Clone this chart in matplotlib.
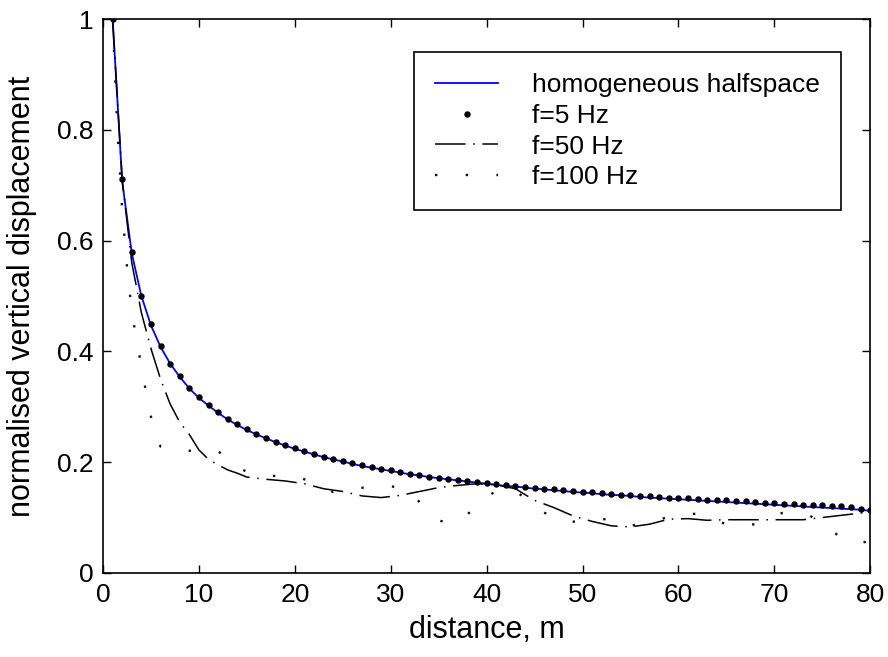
import numpy as np
import matplotlib
matplotlib.use("Agg")
import matplotlib.pyplot as plt

plt.rcParams['font.family'] = ['Liberation Sans', 'DejaVu Sans']

# distance (m) for halfspace and f=5 Hz
dist = np.arange(1, 81)

halfspace = [1.000, 0.707, 0.577, 0.500, 0.447, 0.408, 0.378, 0.354, 0.333, 0.316,
             0.302, 0.289, 0.277, 0.267, 0.258, 0.250, 0.243, 0.236, 0.230, 0.224,
             0.219, 0.214, 0.209, 0.205, 0.201, 0.197, 0.193, 0.190, 0.187, 0.184,
             0.181, 0.178, 0.176, 0.173, 0.171, 0.169, 0.167, 0.165, 0.163, 0.161,
             0.159, 0.157, 0.156, 0.154, 0.152, 0.151, 0.149, 0.148, 0.146, 0.145,
             0.144, 0.142, 0.141, 0.140, 0.139, 0.137, 0.136, 0.135, 0.134, 0.133,
             0.132, 0.131, 0.130, 0.129, 0.128, 0.127, 0.126, 0.125, 0.124, 0.123,
             0.122, 0.121, 0.120, 0.119, 0.118, 0.117, 0.116, 0.115, 0.114, 0.112]

f5 = [1.000, 0.712, 0.579, 0.500, 0.449, 0.410, 0.378, 0.355, 0.334, 0.318,
      0.303, 0.290, 0.278, 0.268, 0.259, 0.251, 0.244, 0.237, 0.231, 0.225,
      0.220, 0.215, 0.210, 0.206, 0.202, 0.198, 0.194, 0.191, 0.188, 0.185,
      0.182, 0.179, 0.177, 0.174, 0.172, 0.170, 0.168, 0.166, 0.164, 0.162,
      0.160, 0.158, 0.157, 0.155, 0.154, 0.152, 0.151, 0.149, 0.148, 0.146,
      0.146, 0.144, 0.143, 0.141, 0.141, 0.139, 0.138, 0.137, 0.136, 0.135,
      0.135, 0.133, 0.132, 0.131, 0.131, 0.130, 0.129, 0.128, 0.126, 0.126,
      0.125, 0.124, 0.123, 0.122, 0.122, 0.121, 0.120, 0.119, 0.116, 0.114]

x50 = [1, 2, 3, 4, 5, 6, 7, 8, 9, 10, 11, 12, 13, 14, 15, 17, 19, 21, 23, 25,
       27, 29, 31, 33, 35, 37, 39, 41, 43, 45, 47, 49, 51, 53, 55, 57, 59, 61,
       63, 65, 67, 69, 71, 73, 75, 77, 79, 80]
f50 = [1.0, 0.71, 0.56, 0.47, 0.405, 0.35, 0.305, 0.272, 0.25, 0.222, 0.205, 0.195,
       0.186, 0.180, 0.173, 0.169, 0.166, 0.161, 0.152, 0.147, 0.139, 0.136, 0.140,
       0.147, 0.154, 0.158, 0.161, 0.159, 0.152, 0.131, 0.118, 0.103, 0.093, 0.085,
       0.083, 0.088, 0.097, 0.098, 0.095, 0.096, 0.096, 0.096, 0.096, 0.096, 0.100,
       0.104, 0.108, 0.110]

x100 = [1, 1.5, 2, 2.5, 3, 3.5, 4, 4.5, 5, 5.5, 6, 7, 8, 10, 12, 13, 14, 16, 18,
        20, 22, 24, 26, 28, 30, 31, 32, 33, 34, 35, 36, 37, 38, 39, 40, 41, 42,
        43, 44, 45, 46, 47, 48, 50, 52, 53, 55, 57, 59, 61, 62, 64, 66, 68, 70,
        71, 73, 75, 77, 79, 80]
f100 = [1.0, 0.80, 0.655, 0.553, 0.472, 0.42, 0.374, 0.325, 0.282, 0.248, 0.228,
        0.222, 0.219, 0.222, 0.220, 0.205, 0.190, 0.176, 0.175, 0.175, 0.163, 0.146,
        0.150, 0.157, 0.156, 0.155, 0.145, 0.128, 0.108, 0.095, 0.090, 0.093, 0.106,
        0.120, 0.137, 0.148, 0.152, 0.148, 0.135, 0.120, 0.109, 0.100, 0.092, 0.093,
        0.097, 0.097, 0.085, 0.092, 0.101, 0.106, 0.107, 0.093, 0.084, 0.088, 0.104,
        0.109, 0.109, 0.092, 0.062, 0.054, 0.058]

fig = plt.figure(figsize=(8.88, 6.57), dpi=100)
ax = fig.add_axes([0.116, 0.128, 0.864, 0.843])

ax.plot(dist, halfspace, color='#0000ff', lw=1.3, label='homogeneous halfspace')
ax.plot(dist, f5, linestyle='none', marker='o', markersize=3.6, color='black', label='f=5 Hz')
ax.plot(x50, f50, color='black', lw=1.1, linestyle=(0, (20, 5, 1, 5)), label='f=50 Hz')
ax.plot(x100, f100, color='#111111', lw=1.7, linestyle=(0, (1, 12)), label='f=100 Hz')

ax.set_xlim(0, 80)
ax.set_ylim(0, 1)
ax.set_xticks(range(0, 81, 10))
ax.set_yticks([0, 0.2, 0.4, 0.6, 0.8, 1])
ax.set_yticklabels(['0', '0.2', '0.4', '0.6', '0.8', '1'])
ax.tick_params(direction='in', top=True, right=True, length=6, width=1,
               labelsize=19, pad=7)
for s in ax.spines.values():
    s.set_linewidth(1.2)

ax.set_xlabel('distance, m', fontsize=22, labelpad=6)
ax.set_ylabel('normalised vertical displacement', fontsize=22, labelpad=14)

leg = ax.legend(loc='upper left', bbox_to_anchor=(0.405, 0.94), fontsize=19,
                frameon=True, fancybox=False, edgecolor='black', framealpha=1,
                handlelength=2.4, handletextpad=1.3, labelspacing=0.25,
                borderpad=0.8, borderaxespad=0)
leg.get_frame().set_linewidth(1.2)

fig.savefig('out.png', dpi=100)
